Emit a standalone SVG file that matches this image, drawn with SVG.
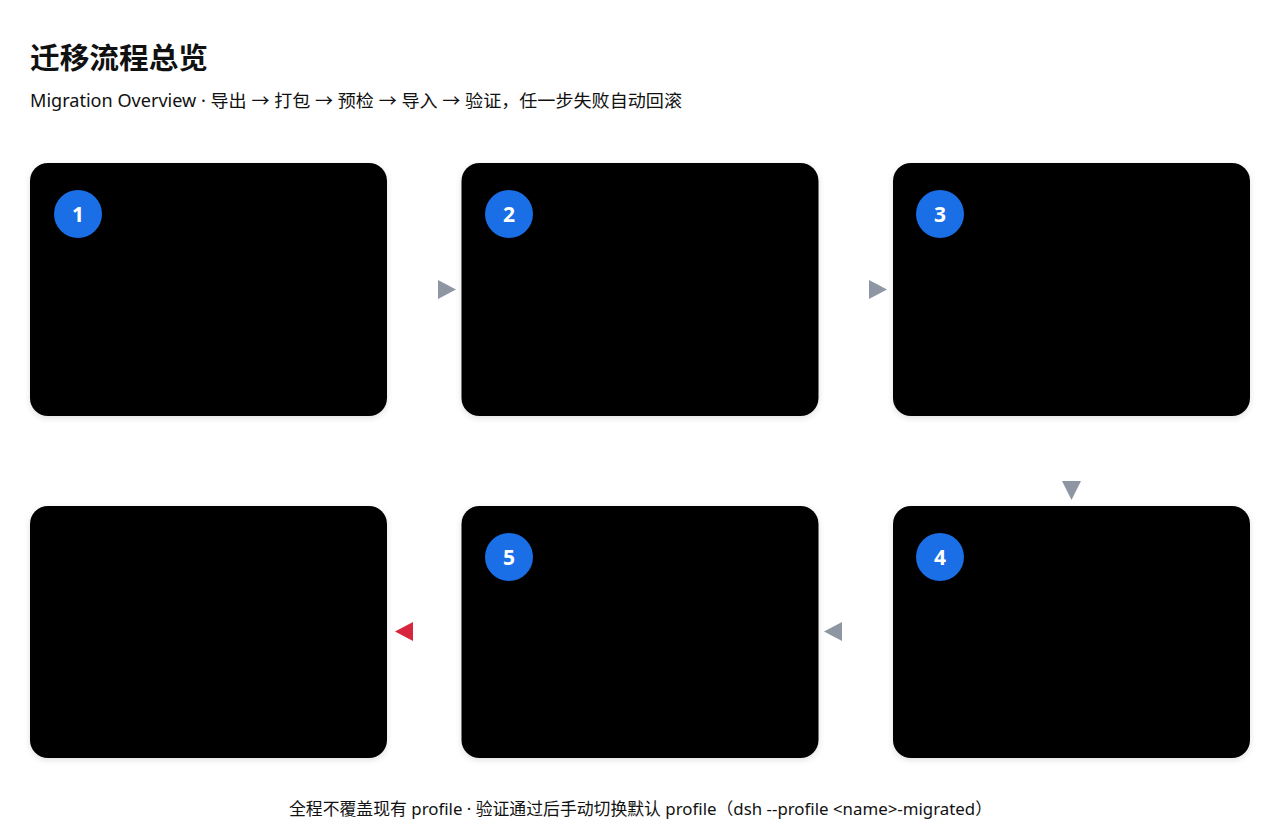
<svg xmlns="http://www.w3.org/2000/svg" width="1280" height="833" viewBox="0 0 1280 833">
<defs>
<filter id="sh" x="-5%" y="-5%" width="110%" height="115%">
<feDropShadow dx="0" dy="2" stdDeviation="3" flood-color="#000" flood-opacity="0.12"/>
</filter>
<style>
.box{fill:#000;filter:url(#sh)}
.badge{fill:#1a6ee6}
.num{fill:#fff;font-family:"Noto Sans","Noto Sans CJK SC",sans-serif;font-weight:700;font-size:21px;text-anchor:middle}
.arr{fill:#8e96a3}
.fail{fill:#d7263d}
.t{font-family:"Noto Sans","Noto Sans CJK SC",sans-serif;fill:#111}
</style>
</defs>
<rect width="1280" height="833" fill="#fff"/>
<text class="t" x="30" y="69" font-size="29" font-weight="700" textLength="178" lengthAdjust="spacingAndGlyphs">迁移流程总览</text>
<text class="t" x="30" y="107" font-size="17.5" textLength="652" lengthAdjust="spacingAndGlyphs">Migration Overview · 导出 → 打包 → 预检 → 导入 → 验证，任一步失败自动回滚</text>
<g id="connectors">
<polygon class="arr" points="438,280 456,289.5 438,299"/>
<polygon class="arr" points="869,280 887,289.5 869,299"/>
<polygon class="arr" points="1062,481 1081,481 1071.5,500"/>
<polygon class="arr" points="842,622 842,641 824,631.5"/>
<polygon class="fail" points="413,622 413,641 395,631.5"/>
</g>
<g id="node1"><rect class="box" x="30" y="163" width="357" height="253" rx="18"/><circle class="badge" cx="78" cy="214" r="24"/><text class="num" x="78" y="221.5">1</text></g>
<g id="node2"><rect class="box" x="461.5" y="163" width="357" height="253" rx="18"/><circle class="badge" cx="509" cy="214" r="24"/><text class="num" x="509" y="221.5">2</text></g>
<g id="node3"><rect class="box" x="893" y="163" width="357" height="253" rx="18"/><circle class="badge" cx="940" cy="214" r="24"/><text class="num" x="940" y="221.5">3</text></g>
<g id="node4"><rect class="box" x="893" y="506" width="357" height="252" rx="18"/><circle class="badge" cx="940" cy="557" r="24"/><text class="num" x="940" y="564.5">4</text></g>
<g id="node5"><rect class="box" x="461.5" y="506" width="357" height="252" rx="18"/><circle class="badge" cx="509" cy="557" r="24"/><text class="num" x="509" y="564.5">5</text></g>
<g id="node6"><rect class="box" x="30" y="506" width="357" height="252" rx="18"/></g>
<text class="t" x="289" y="815" font-size="16.5" textLength="703" lengthAdjust="spacingAndGlyphs">全程不覆盖现有 profile · 验证通过后手动切换默认 profile（dsh --profile &lt;name&gt;-migrated）</text>
</svg>
